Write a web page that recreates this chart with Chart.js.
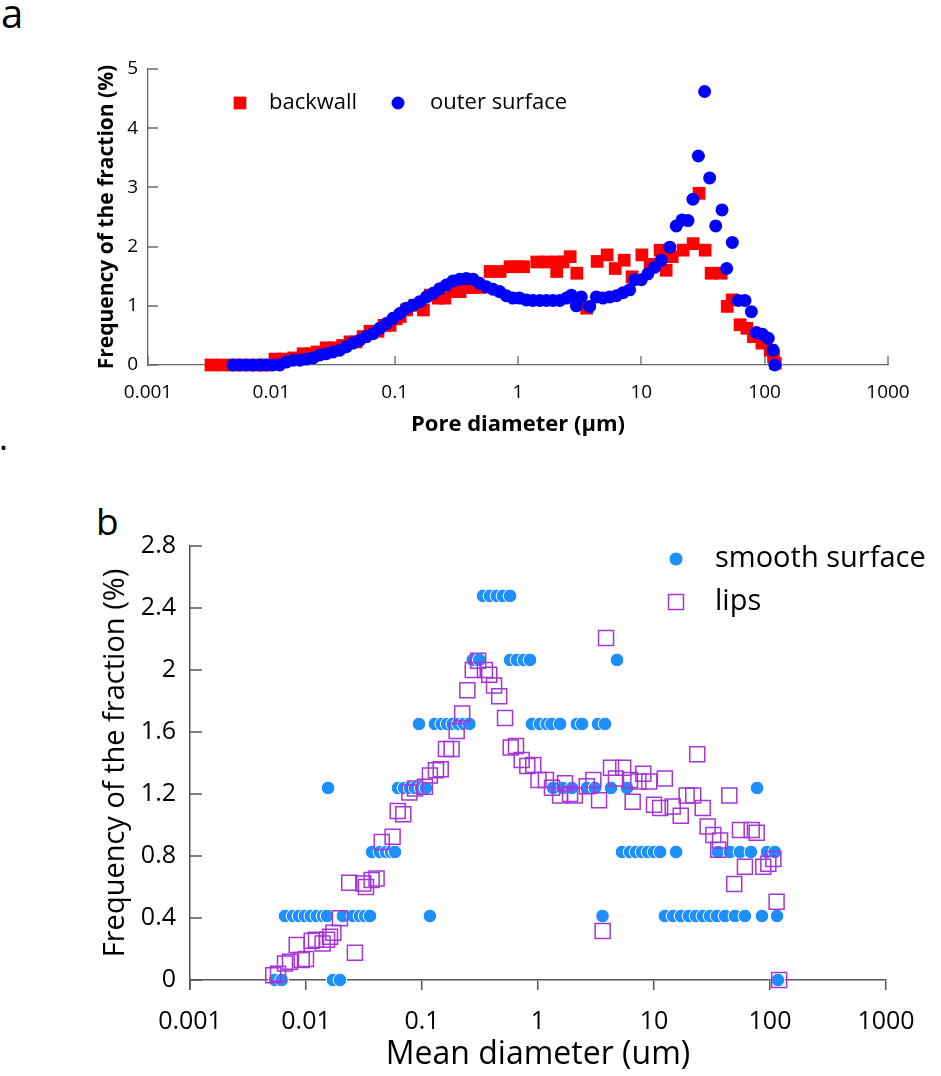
<!DOCTYPE html>
<html>
<head>
<meta charset="utf-8">
<script src="https://cdn.jsdelivr.net/npm/chart.js@4.4.0/dist/chart.umd.min.js"></script>
<style>
  body { margin: 0; background: #fff; width: 941px; height: 1076px; position: relative; overflow: hidden; font-family: 'Open Sans', sans-serif; }
  canvas { position: absolute; left: 0; }
  #ca { top: 0; }
  #cb { top: 450px; }
  .lbl { position: absolute; color: #000; line-height: 1; }
</style>
</head>
<body>
<div class="lbl" style="left:1px;top:-7px;font-size:40px;">a</div>
<div class="lbl" style="left:-1px;top:420px;font-size:34px;">.</div>
<div class="lbl" style="left:96px;top:502px;font-size:37px;">b</div>
<canvas id="ca" width="941" height="450"></canvas>
<canvas id="cb" width="941" height="626"></canvas>
<script>
// shared axis ticks
var xTicks = [0.001, 0.01, 0.1, 1, 10, 100, 1000];
var xTickLabels = ['0.001', '0.01', '0.1', '1', '10', '100', '1000'];
var yTicksA = [0, 1, 2, 3, 4, 5];
var yTicksB = [0, 0.2, 0.4, 0.6, 0.8, 1.0, 1.2, 1.4, 1.6, 1.8, 2.0, 2.2, 2.4, 2.6, 2.8];
var yTickLabelsB = ['0', '', '0.4', '', '0.8', '', '1.2', '', '1.6', '', '2', '', '2.4', '', '2.8'];

// panel a : pore size distribution
var backwallX = [0.00324, 0.00398, 0.00497, 0.00624, 0.0078, 0.00906, 0.0107, 0.0127, 0.0152, 0.0181, 0.021, 0.0235,
  0.0278, 0.0322, 0.0378, 0.0435, 0.0486, 0.0555, 0.0631, 0.0733, 0.082, 0.0918, 0.103, 0.111, 0.125, 0.146, 0.171,
  0.194, 0.225, 0.256, 0.299, 0.339, 0.385, 0.435, 0.493, 0.594, 0.716, 0.863, 0.984, 1.11, 1.42, 1.71, 2.06, 2.06,
  2.32, 2.65, 3.0, 3.61, 4.38, 5.28, 6.14, 7.26, 8.42, 10.1, 11.8, 14.2, 15.9, 17.8, 21.8, 26.3, 29.4, 32.9, 36.8,
  44.4, 49.7, 54.5, 63.2, 71.8, 81.1, 94.9, 111, 118, 122];
var backwallY = [0, 0, 0, 0, 0, 0, 0.1, 0.1, 0.12, 0.19, 0.19, 0.22,
  0.29, 0.29, 0.33, 0.39, 0.39, 0.48, 0.57, 0.57, 0.67, 0.67, 0.78, 0.82, 0.93, 1.01, 0.93,
  1.18, 1.13, 1.13, 1.24, 1.24, 1.31, 1.31, 1.31, 1.58, 1.58, 1.66, 1.66, 1.66, 1.74, 1.74, 1.58, 1.74,
  1.74, 1.83, 1.55, 0.96, 1.75, 1.86, 1.63, 1.77, 1.49, 1.86, 1.7, 1.94, 1.6, 1.83, 1.94, 2.05, 2.9, 1.94, 1.55,
  1.55, 0.99, 1.1, 0.68, 0.62, 0.48, 0.37, 0.25, 0.14, 0.03];

var outerX = [0.00489, 0.00553, 0.00627, 0.0071, 0.00804, 0.0091, 0.0103, 0.0117, 0.0132, 0.015, 0.017, 0.0192,
  0.0218, 0.0247, 0.0279, 0.0316, 0.0358, 0.0406, 0.046, 0.0521, 0.0589, 0.0668, 0.0755, 0.0855, 0.0968, 0.11,
  0.124, 0.141, 0.16, 0.181, 0.205, 0.232, 0.262, 0.297, 0.337, 0.381, 0.432, 0.489, 0.553, 0.627, 0.71, 0.804,
  0.91, 1.03, 1.17, 1.32, 1.5, 1.7, 1.92, 2.18, 2.47, 2.71, 2.97, 3.26, 3.81, 4.32, 4.89, 5.54, 6.27, 7.1, 8.04,
  8.83, 10.0, 11.3, 12.8, 14.5, 17.0, 19.2, 21.4, 23.9, 26.2, 29.0, 32.6, 35.8, 40.1, 45.1, 49.2, 54.7, 61.1,
  69.3, 78.0, 85.6, 95.7, 107, 117, 121];
var outerY = [0, 0, 0, 0, 0, 0, 0, 0, 0.05, 0.08, 0.08, 0.1,
  0.12, 0.17, 0.19, 0.22, 0.25, 0.31, 0.37, 0.42, 0.48, 0.53, 0.62, 0.7, 0.79, 0.87,
  0.96, 1.01, 1.07, 1.15, 1.21, 1.29, 1.35, 1.42, 1.45, 1.46, 1.45, 1.38, 1.32, 1.28, 1.24, 1.17,
  1.13, 1.13, 1.1, 1.09, 1.09, 1.09, 1.09, 1.09, 1.13, 1.18, 1.0, 1.15, 0.99, 1.15, 1.13, 1.15, 1.17, 1.22, 1.27,
  1.44, 1.44, 1.54, 1.65, 1.77, 1.99, 2.35, 2.45, 2.44, 2.8, 3.53, 4.62, 3.16, 2.35, 2.62, 1.63, 2.07, 1.09,
  1.09, 0.9, 0.55, 0.52, 0.45, 0.25, 0];

// panel b : mean diameter distribution
var smoothX = [0.00541, 0.00617, 0.00659, 0.00773, 0.00871, 0.0098, 0.011, 0.0124, 0.014, 0.0152, 0.0155, 0.0171,
  0.0196, 0.0208, 0.0254, 0.0292, 0.0323, 0.0356, 0.0371, 0.0434, 0.049, 0.0541, 0.0585, 0.0621, 0.07, 0.0788,
  0.0871, 0.0942, 0.098, 0.108, 0.117, 0.129, 0.148, 0.165, 0.184, 0.206, 0.23, 0.256, 0.274, 0.312, 0.336, 0.385,
  0.443, 0.499, 0.574, 0.574, 0.659, 0.757, 0.853, 0.887, 1.04, 1.19, 1.31, 1.35, 1.55, 1.64, 1.96, 2.16, 2.4,
  2.64, 3.1, 3.29, 3.6, 3.78, 4.26, 4.8, 5.3, 5.85, 6.21, 7.0, 7.89, 8.87, 10.0, 11.3, 12.4, 14.6, 15.5, 17.1,
  20.0, 23.0, 26.4, 30.4, 34.9, 35.6, 40.9, 45.2, 49.9, 55.1, 60.8, 68.5, 77.3, 85.3, 94.2, 110, 115, 117];
var smoothY = [0, 0, 0.413, 0.413, 0.413, 0.413, 0.413, 0.413, 0.413, 0.413, 1.239, 0,
  0, 0.413, 0.413, 0.413, 0.413, 0.413, 0.826, 0.826, 0.826, 0.826, 0.826, 1.239, 1.239, 1.239,
  1.239, 1.652, 1.239, 1.239, 0.413, 1.652, 1.652, 1.652, 1.652, 1.652, 1.652, 1.652, 2.065, 2.065, 2.478, 2.478,
  2.478, 2.478, 2.478, 2.065, 2.065, 2.065, 2.065, 1.652, 1.652, 1.652, 1.652, 1.239, 1.652, 1.239, 1.239, 1.652, 1.652,
  1.239, 1.239, 1.652, 0.413, 1.652, 1.239, 2.065, 0.826, 1.239, 0.826, 0.826, 0.826, 0.826, 0.826, 0.826, 0.413, 0.413, 0.826, 0.413,
  0.413, 0.413, 0.413, 0.413, 0.413, 0.826, 0.413, 0.826, 0.413, 0.826, 0.413, 0.826, 1.239, 0.413, 0.826, 0.826, 0.413, 0];

var lipsX = [0.00522, 0.00574, 0.00659, 0.00728, 0.00832, 0.00918, 0.01, 0.0112, 0.0122, 0.0139, 0.0152, 0.0161,
  0.0172, 0.0196, 0.0236, 0.0264, 0.0312, 0.0329, 0.0368, 0.0406, 0.045, 0.0558, 0.0618, 0.069, 0.0778, 0.0871,
  0.106, 0.117, 0.132, 0.145, 0.161, 0.18, 0.199, 0.222, 0.246, 0.274, 0.305, 0.349, 0.38, 0.418, 0.463, 0.52,
  0.582, 0.646, 0.723, 0.809, 0.91, 1.01, 1.17, 1.32, 1.55, 1.71, 1.89, 2.08, 2.63, 3.0, 3.36, 3.61, 3.86, 4.26,
  4.7, 5.43, 6.21, 6.55, 7.33, 8.09, 9.1, 10.0, 11.3, 12.4, 14.5, 17.0, 19.1, 21.8, 23.6, 26.3, 29.0, 32.5, 35.8,
  37.1, 44.6, 49.2, 55.1, 60.8, 69.5, 76.7, 87.5, 96.7, 107, 114, 120];
var lipsY = [0.03, 0.04, 0.107, 0.118, 0.226, 0.129, 0.135, 0.254, 0.26, 0.236, 0.26, 0.279,
  0.305, 0.398, 0.627, 0.176, 0.623, 0.6, 0.645, 0.655, 0.89, 0.924, 1.09, 1.07, 1.21, 1.235,
  1.246, 1.32, 1.354, 1.36, 1.49, 1.49, 1.607, 1.72, 1.87, 2.0, 2.06, 2.0, 1.97, 1.9, 1.83, 1.69,
  1.5, 1.51, 1.42, 1.38, 1.387, 1.29, 1.29, 1.24, 1.19, 1.27, 1.2, 1.19, 1.25, 1.29, 1.16, 0.316, 2.207, 1.37,
  1.3, 1.37, 1.29, 1.15, 1.28, 1.33, 1.28, 1.13, 1.11, 1.3, 1.12, 1.06, 1.19, 1.19, 1.457, 1.11, 0.99, 0.935, 0.84,
  0.9, 1.19, 0.62, 0.967, 0.73, 0.967, 0.95, 0.73, 0.75, 0.78, 0.505, 0];

function toPoints(xs, ys) {
  var pts = [];
  for (var i in xs) {
    pts.push({x: xs[i], y: ys[i]});
  }
  return pts;
}

// tick marks that point into the plot
var innerTicks = {
  id: 'innerTicks',
  beforeDatasetsDraw: function(chart, args, opts) {
    var ctx = chart.ctx, a = chart.chartArea;
    var sx = chart.scales.x, sy = chart.scales.y;
    ctx.save();
    ctx.strokeStyle = opts.color;
    ctx.lineWidth = opts.width;
    ctx.beginPath();
    if (opts.x) {
      sx.ticks.forEach(function(t) {
        var px = Math.round(sx.getPixelForValue(t.value));
        ctx.moveTo(px, a.bottom);
        ctx.lineTo(px, a.bottom - opts.x);
      });
    }
    sy.ticks.forEach(function(t) {
      var py = Math.round(sy.getPixelForValue(t.value));
      var len = t.label === '' ? opts.yMinor : opts.y;
      ctx.moveTo(a.left, py);
      ctx.lineTo(a.left + len, py);
    });
    if (opts.yExtend) {
      ctx.moveTo(a.left, a.bottom);
      ctx.lineTo(a.left, a.bottom + opts.yExtend);
    }
    ctx.stroke();
    ctx.restore();
  }
};

// legend drawn inside the plot area
var insideLegend = {
  id: 'insideLegend',
  afterDraw: function(chart, args, opts) {
    var ctx = chart.ctx;
    chart.data.datasets.forEach(function(ds, i) {
      var p = opts.items[i];
      ctx.save();
      ctx.fillStyle = ds.backgroundColor;
      ctx.strokeStyle = ds.borderColor || ds.backgroundColor;
      ctx.lineWidth = ds.borderWidth || 0;
      Chart.helpers.drawPoint(ctx, {pointStyle: ds.pointStyle, radius: p.r, borderWidth: ds.borderWidth || 0, rotation: 0}, p.x, p.y);
      ctx.fillStyle = '#000';
      ctx.font = opts.font;
      ctx.textBaseline = 'middle';
      ctx.fillText(ds.label, p.tx, p.y);
      ctx.restore();
    });
  }
};

function logAxis(opts) {
  return Object.assign({
    type: 'logarithmic',
    min: 0.001,
    max: 1000,
    afterBuildTicks: function(s) { s.ticks = xTicks.map(function(v) { return {value: v}; }); }
  }, opts);
}

new Chart(document.getElementById('ca'), {
  type: 'scatter',
  data: {
    datasets: [
      {
        label: 'backwall',
        data: toPoints(backwallX, backwallY),
        pointStyle: 'rect',
        pointRadius: 9,
        backgroundColor: '#ff0000',
        borderWidth: 0,
        clip: false,
        order: 1
      },
      {
        label: 'outer surface',
        data: toPoints(outerX, outerY),
        pointStyle: 'circle',
        pointRadius: 6.5,
        backgroundColor: '#0000ff',
        borderWidth: 0,
        clip: false,
        order: 0
      }
    ]
  },
  options: {
    responsive: false,
    animation: false,
    devicePixelRatio: 1,
    layout: { padding: { left: 90, top: 69, right: 53, bottom: 8 } },
    plugins: {
      legend: { display: false },
      tooltip: { enabled: false },
      innerTicks: { color: '#6a6a6a', width: 1.3, x: 9, y: 10, yMinor: 10 },
      insideLegend: {
        font: '22px "Open Sans"',
        items: [ {x: 240, y: 103, r: 9, tx: 269}, {x: 398, y: 103, r: 6.5, tx: 430} ]
      }
    },
    scales: {
      x: logAxis({
        afterFit: function(s) { s.height = 77; },
        ticks: {
          autoSkip: false, maxRotation: 0, color: '#000', padding: 16,
          font: { family: 'Open Sans', size: 19 },
          callback: function(v, i) { return xTickLabels[i]; }
        },
        grid: { display: false, drawTicks: false },
        border: { color: '#6a6a6a', width: 1.3 },
        title: {
          display: true, text: 'Pore diameter (μm)', color: '#000',
          font: { family: 'Open Sans', size: 22, weight: 'bold' },
          padding: { top: 0, bottom: 4 }
        }
      }),
      y: {
        min: 0,
        max: 5,
        afterBuildTicks: function(s) { s.ticks = yTicksA.map(function(v) { return {value: v}; }); },
        afterFit: function(s) { s.width = 58; },
        ticks: {
          color: '#000', padding: 10,
          font: { family: 'Open Sans', size: 19 },
          callback: function(v, i) { return String(yTicksA[i]); }
        },
        grid: { display: false, drawTicks: false },
        border: { color: '#6a6a6a', width: 1.3 },
        title: {
          display: true, text: 'Frequency of the fraction (%)', color: '#000',
          font: { family: 'Open Sans', size: 21, weight: 'bold' },
          padding: { top: 4, bottom: 0 }
        }
      }
    }
  },
  plugins: [innerTicks, insideLegend]
});

new Chart(document.getElementById('cb'), {
  type: 'scatter',
  data: {
    datasets: [
      {
        label: 'smooth surface',
        data: toPoints(smoothX, smoothY),
        pointStyle: 'circle',
        pointRadius: 6.8,
        backgroundColor: '#1e8fff',
        borderColor: '#ffffff',
        borderWidth: 1,
        clip: false,
        order: 1
      },
      {
        label: 'lips',
        data: toPoints(lipsX, lipsY),
        pointStyle: 'rect',
        pointRadius: 10.6,
        backgroundColor: 'rgba(0,0,0,0)',
        borderColor: '#a535d6',
        borderWidth: 1.5,
        clip: false,
        order: 0
      }
    ]
  },
  options: {
    responsive: false,
    animation: false,
    devicePixelRatio: 1,
    layout: { padding: { left: 94, top: 96, right: 55, bottom: 0 } },
    plugins: {
      legend: { display: false },
      tooltip: { enabled: false },
      innerTicks: { color: '#555', width: 1.5, x: 0, y: 12, yMinor: 7, yExtend: 10 },
      insideLegend: {
        font: '29px "Open Sans"',
        items: [ {x: 676, y: 109, r: 7, tx: 715}, {x: 676, y: 152, r: 10.6, tx: 715} ]
      }
    },
    scales: {
      x: logAxis({
        afterFit: function(s) { s.height = 96; },
        ticks: {
          autoSkip: false, maxRotation: 0, color: '#000', padding: 17,
          font: { family: 'Open Sans', size: 25 },
          callback: function(v, i) { return xTickLabels[i]; }
        },
        grid: { display: true, drawOnChartArea: false, drawTicks: true, tickLength: 10, color: '#555', lineWidth: 1.5 },
        border: { color: '#555', width: 1.5 },
        title: {
          display: true, text: 'Mean diameter (um)', color: '#000',
          font: { family: 'Open Sans', size: 32 },
          padding: { top: 0, bottom: 2 }
        }
      }),
      y: {
        min: 0,
        max: 2.8,
        afterBuildTicks: function(s) { s.ticks = yTicksB.map(function(v) { return {value: v}; }); },
        afterFit: function(s) { s.width = 96; },
        ticks: {
          color: '#000', padding: 14,
          font: { family: 'Open Sans', size: 25 },
          callback: function(v, i) { return yTickLabelsB[i]; }
        },
        grid: { display: false, drawTicks: false },
        border: { color: '#555', width: 1.5 },
        title: {
          display: true, text: 'Frequency of the fraction (%)', color: '#000',
          font: { family: 'Open Sans', size: 29 },
          padding: { top: 4, bottom: 0 }
        }
      }
    }
  },
  plugins: [innerTicks, insideLegend]
});
</script>
</body>
</html>
